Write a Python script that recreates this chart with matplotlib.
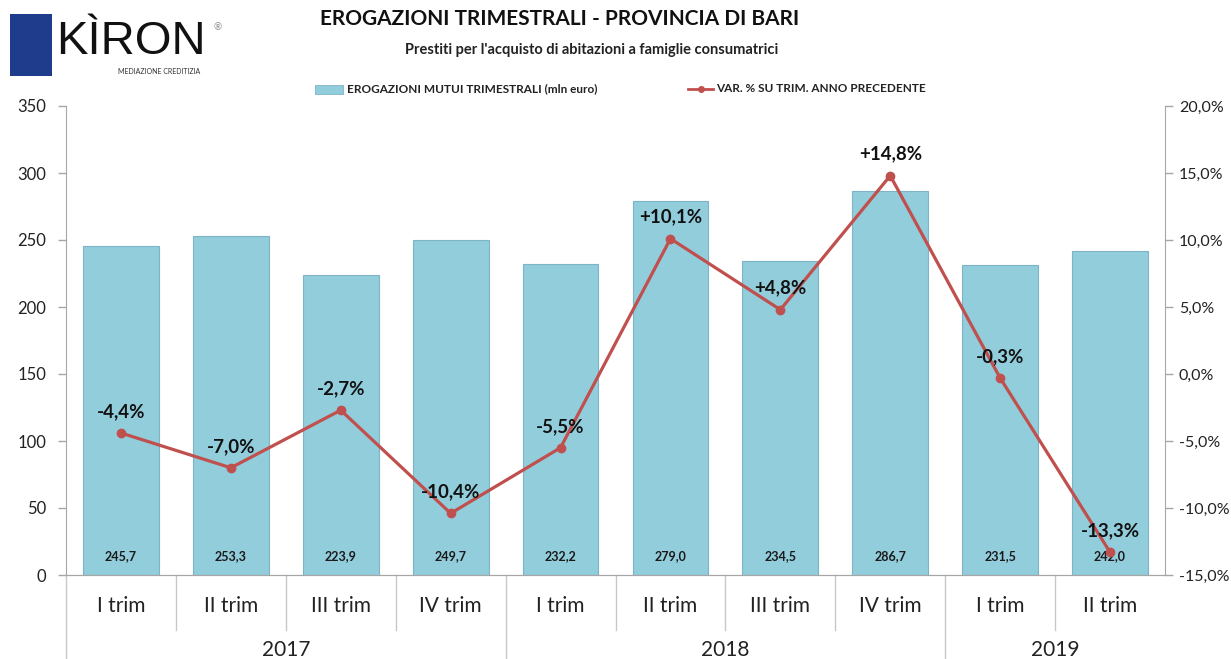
import matplotlib.pyplot as plt
import matplotlib.patches as mpatches
from matplotlib.lines import Line2D
import numpy as np

plt.rcParams['font.family'] = ['Lato', 'DejaVu Sans']

trims = ["I trim", "II trim", "III trim", "IV trim", "I trim", "II trim",
         "III trim", "IV trim", "I trim", "II trim"]
years = ["2017", "2018", "2019"]
year_counts = [4, 4, 2]
erogazioni = [245.7, 253.3, 223.9, 249.7, 232.2, 279.0, 234.5, 286.7, 231.5, 242.0]
var_pct = [-4.4, -7.0, -2.7, -10.4, -5.5, 10.1, 4.8, 14.8, -0.3, -13.3]

bar_col = "#92CDDC"
bar_edge = "#7FB3C8"
line_col = "#C0504D"
axis_col = "#A6A6A6"

W, H = 1231, 659
fig = plt.figure(figsize=(W / 100, H / 100), dpi=100)
x0, x1, yb, yt = 66, 1165, 575, 106
ax = fig.add_axes([x0 / W, 1 - yb / H, (x1 - x0) / W, (yb - yt) / H])
ax2 = ax.twinx()

x = np.arange(len(erogazioni))
ax.bar(x, erogazioni, width=0.69, color=bar_col, edgecolor=bar_edge, linewidth=0.8, zorder=2)
ax.set_xlim(-0.5, len(x) - 0.5)
ax.set_ylim(0, 350)
ax.set_yticks(range(0, 351, 50))
ax.set_xticks([])

def fmt(v, dec=1):
    return f"{v:.{dec}f}".replace(".", ",")

for xi, v in zip(x, erogazioni):
    ax.text(xi, 14, fmt(v), ha="center", va="center", fontsize=9, fontweight="bold",
            color="#1a1a1a", zorder=5)

ax2.plot(x, var_pct, color=line_col, lw=2.3, marker="o", ms=6, zorder=4)
ax2.set_ylim(-15, 20)
ax2.set_yticks(range(-15, 21, 5))
ax2.set_yticklabels([fmt(v) + "%" for v in range(-15, 21, 5)])
for xi, v in zip(x, var_pct):
    lab = ("+" if v > 0 else "") + fmt(v) + "%"
    ax2.text(xi, v + 1.6, lab, ha="center", va="center", fontsize=13.5,
             fontweight="bold", color="#111111", zorder=6)

for a in (ax, ax2):
    a.spines["top"].set_visible(False)
    a.spines["left"].set_color(axis_col)
    a.spines["right"].set_color(axis_col)
    a.spines["bottom"].set_color(axis_col)
    a.tick_params(axis="y", colors=axis_col, labelcolor="#222222", labelsize=12,
                  length=6, width=1)
ax.spines["right"].set_visible(False)
ax2.spines["left"].set_visible(False)
ax.tick_params(axis="y", pad=8)
ax2.tick_params(axis="y", pad=4, labelsize=11.5)

# category axis below the plot
trans = ax.get_xaxis_transform()
ph = yb - yt
for xi, t in zip(x, trims):
    ax.text(xi, -31 / ph, t, transform=trans, ha="center", va="center",
            fontsize=15, color="#222222")
sep_short = -55 / ph
sep_long = -(H - yb) / ph
bounds = np.cumsum([0] + year_counts) - 0.5
for b in np.arange(-0.5, len(x) - 0.5, 1.0):
    is_year = np.any(np.isclose(b, bounds))
    bottom = sep_long if is_year else sep_short
    ax.add_line(Line2D([b, b], [0, bottom], transform=trans, color="#C8C8C8",
                       lw=1, clip_on=False))
for i, yr in enumerate(years):
    c = (bounds[i] + bounds[i + 1]) / 2
    ax.text(c, -75 / ph, yr, transform=trans, ha="center", va="center",
            fontsize=15, color="#222222")

# titles
fig.text(560 / W, 1 - 19 / H, "EROGAZIONI TRIMESTRALI - PROVINCIA DI BARI", ha="center",
         va="center", fontsize=15, fontweight="bold", color="#111111")
fig.text(592 / W, 1 - 50 / H, "Prestiti per l'acquisto di abitazioni a famiglie consumatrici",
         ha="center", va="center", fontsize=10.5, fontweight="bold", color="#222222")

# legend
fig.patches.append(mpatches.Rectangle((315 / W, 1 - 94 / H), 28 / W, 9 / H,
                                      transform=fig.transFigure, facecolor=bar_col,
                                      edgecolor=bar_edge, lw=0.6))
fig.text(347 / W, 1 - 89 / H, "EROGAZIONI MUTUI TRIMESTRALI (mln euro)", ha="left",
         va="center", fontsize=8.5, fontweight="bold", color="#222222")
fig.add_artist(Line2D([688 / W, 713 / W], [1 - 89 / H, 1 - 89 / H], color=line_col,
                      lw=2, transform=fig.transFigure))
fig.add_artist(Line2D([700.5 / W], [1 - 89 / H], color=line_col, marker="o", ms=4,
                      transform=fig.transFigure))
fig.text(716 / W, 1 - 89 / H, "VAR. % SU TRIM. ANNO PRECEDENTE", ha="left",
         va="center", fontsize=8.5, fontweight="bold", color="#222222")

# logo
fig.patches.append(mpatches.Rectangle((10 / W, 1 - 76 / H), 42 / W, 62 / H,
                                      transform=fig.transFigure, facecolor="#1F3C8C",
                                      edgecolor="none"))
fig.text(56 / W, 1 - 42 / H, "KÌRON", ha="left", va="center", fontsize=34,
         color="#111111", family=["Liberation Sans", "DejaVu Sans"])
fig.text(213 / W, 1 - 28 / H, "®", ha="left", va="center", fontsize=7, color="#888888")
fig.text(118 / W, 1 - 71 / H, "MEDIAZIONE CREDITIZIA", ha="left", va="center",
         fontsize=5, color="#333333")

fig.savefig("out.png", dpi=100)
